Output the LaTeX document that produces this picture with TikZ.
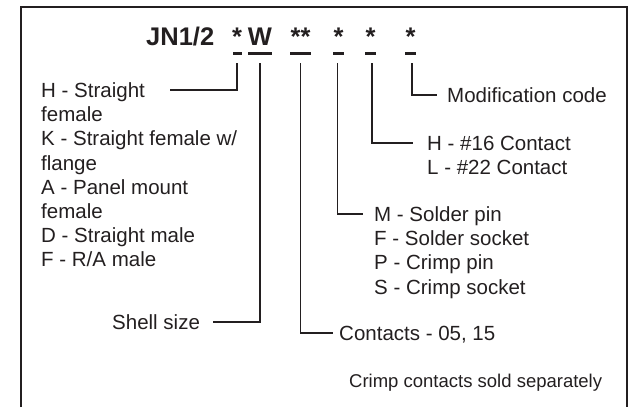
\documentclass[tikz,border=0pt]{standalone}
\usepackage{fontspec}
\setmainfont{Liberation Sans}
\definecolor{ink}{RGB}{35,31,32}
\begin{document}
\begin{tikzpicture}[x=1pt,y=-1pt,
  lab/.style={anchor=base west, inner sep=0pt, font=\fontsize{20.5}{24}\selectfont, text=ink},
  small/.style={anchor=base west, inner sep=0pt, font=\fontsize{18.5}{22}\selectfont, text=ink},
  ttl/.style={anchor=base, inner sep=0pt, font=\fontsize{25.5}{28}\selectfont\bfseries, text=ink},
  uline/.style={fill=ink, draw=none, inner sep=0pt, minimum height=2.6pt},
  wire/.style={draw=ink, line width=1.4pt},
  frame/.style={draw=ink, line width=1.4pt}]
\useasboundingbox (0,0) rectangle (629,407);
\draw[frame] (21,407) -- (21,7) -- (627,7) -- (627,407);
% title
\node[ttl, anchor=base west] (jn) at (146,45.5) {JN1/2};
\node[ttl] (s1) at (237,45.5) {*};
\node[ttl] (sw) at (260,45.5) {W};
\node[ttl] (s2) at (300.5,45.5) {**};
\node[ttl] (s3) at (338.5,45.5) {*};
\node[ttl] (s4) at (370.5,45.5) {*};
\node[ttl] (s5) at (410.5,45.5) {*};
\node[uline, minimum width=9pt] (u1) at (237,53.3) {};
\node[uline, minimum width=24pt] (uw) at (260,53.3) {};
\node[uline, minimum width=21pt] (u2) at (300.5,53.3) {};
\node[uline, minimum width=11pt] (u3) at (338.5,53.3) {};
\node[uline, minimum width=11pt] (u4) at (370.5,53.3) {};
\node[uline, minimum width=11pt] (u5) at (410.5,53.3) {};
% left block
\node[lab] (l1) at (41,97.5) {H - Straight};
\node[lab] (l2) at (41,121.7) {female};
\node[lab] (l3) at (41,145.9) {K - Straight female w/};
\node[lab] (l4) at (41,170.1) {flange};
\node[lab] (l5) at (41,194.3) {A - Panel mount};
\node[lab] (l6) at (41,218.5) {female};
\node[lab] (l7) at (41,242.7) {D - Straight male};
\node[lab] (l8) at (41,266.9) {F - R/A male};
\node[lab] (shell) at (112,329.5) {Shell size};
\node[lab] (cont) at (339,340.5) {Contacts - 05, 15};
\node[lab] (m1) at (374,221.5) {M - Solder pin};
\node[lab] (m2) at (374,245.7) {F - Solder socket};
\node[lab] (m3) at (374,269.9) {P - Crimp pin};
\node[lab] (m4) at (374,294.1) {S - Crimp socket};
\node[lab] (h1) at (427,150.5) {H - \#16 Contact};
\node[lab] (h2) at (427,174.7) {L - \#22 Contact};
\node[lab] (mod) at (447,102.5) {Modification code};
\node[small] (note) at (349,387) {Crimp contacts sold separately};
% connectors
\draw[wire] ([yshift=-8.5pt]u1.south) |- ([xshift=25pt,yshift=7.5pt]l1.base east);
\draw[wire] ([yshift=-8.5pt]uw.south) |- ([xshift=13pt,yshift=7.5pt]shell.base east);
\draw[wire] ([yshift=-8.5pt]u2.south) |- ([xshift=-6pt,yshift=7.5pt]cont.base west);
\draw[wire] ([xshift=-1pt,yshift=-8.5pt]u3.south) |- ([xshift=-11pt,yshift=7.5pt]m1.base west);
\draw[wire] ([xshift=1.5pt,yshift=-8.5pt]u4.south) |- ([xshift=-14pt,yshift=7.5pt]h1.base west);
\draw[wire] ([xshift=1.5pt,yshift=-8.5pt]u5.south) |- ([xshift=-10pt,yshift=7.5pt]mod.base west);
\end{tikzpicture}
\end{document}
